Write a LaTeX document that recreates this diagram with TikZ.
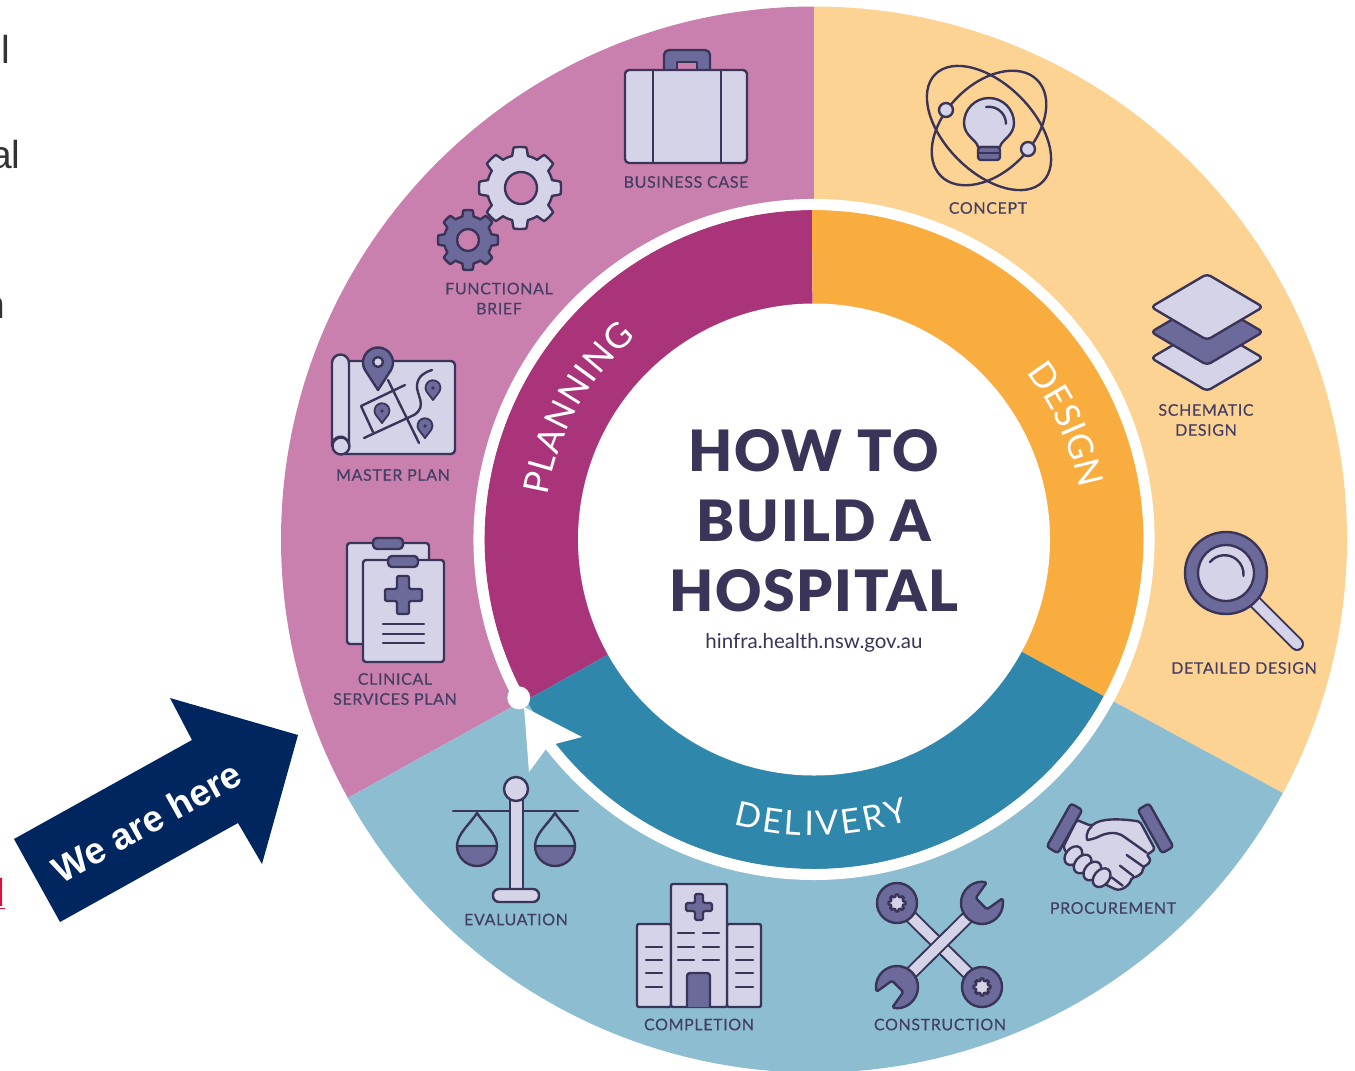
\documentclass[tikz,border=0pt]{standalone}
\usepackage{fontspec}
\setmainfont{Lato}
\newfontfamily\labfont[LetterSpace=4,FakeBold=0.25]{Lato}
\newfontfamily\ringf{Lato}
\newfontfamily\titlef[LetterSpace=3]{Lato Black}
\newfontfamily\arialfont{Liberation Sans}
\usetikzlibrary{decorations.text}
\definecolor{pinkL}{HTML}{CA80AE}
\definecolor{pinkD}{HTML}{A9347A}
\definecolor{orgL}{HTML}{FDD394}
\definecolor{orgD}{HTML}{FAAD3F}
\definecolor{bluL}{HTML}{8DBDD0}
\definecolor{bluD}{HTML}{2F88AB}
\definecolor{ink}{HTML}{3A3558}
\definecolor{lav}{HTML}{D5D3E8}
\definecolor{pur}{HTML}{6C6A9B}
\definecolor{navy}{HTML}{00265F}
\definecolor{lbl}{HTML}{443E62}
\definecolor{linkred}{HTML}{D5143C}
\tikzset{
  icon/.style={draw=ink,line width=2.4pt,line join=round,line cap=round},
  ln/.style={draw=ink,line width=2.4pt,line cap=round,line join=round},
  lab/.style={text=lbl,font=\labfont\fontsize{16}{20}\selectfont,align=center,inner sep=0pt},
  title/.style={text=ink,font=\titlef\fontsize{57}{70}\selectfont,align=center,inner sep=0pt},
  bgtxt/.style={text=black!80,font=\arialfont\fontsize{39}{39}\selectfont,inner sep=0pt,anchor=base west},
  ringtxt/.style={decorate,decoration={text along path,text align=center,text={#1}}}
}
\newcommand\ringfont{\ringf\fontsize{35}{35}\selectfont\color{white}}
\newcommand\ringfontb{\ringf\fontsize{34}{34}\selectfont\color{white}}
\newcommand\kk{\kern1pt}
\newcommand\kb{\kern3pt}
\newcommand\gearicon[7]{% x y rout rin n fill phase
  \draw[icon,fill=#6] plot[domain=0:360,samples=289,variable=\t]
   ({#1+(#4+(#3-#4)*max(0,min(1,0.5+1.5*cos(#5*\t+#7))))*cos(\t)},
    {#2+(#4+(#3-#4)*max(0,min(1,0.5+1.5*cos(#5*\t+#7))))*sin(\t)}) -- cycle;}
\begin{document}
\begin{tikzpicture}[x=1pt,y=-1pt]
\useasboundingbox (0,0) rectangle (1355,1071);
\fill[white] (0,0) rectangle (1355,1071);
\clip (0,0) rectangle (1355,1071);
\coordinate (c) at (814,539.5);
% left text fragments
\node[bgtxt] (fa) at (-7,63) {ll};
\node[bgtxt] (fb) at (-10,168) {al};
\node[bgtxt] (fc) at (-17,318) {n};
\node[bgtxt,text=linkred] (fd) at (-17,906) {\underline{d}};
% outer ring
\fill[pinkL] (c) -- ([shift={(90:533pt)}]c) arc[start angle=90,end angle=209,radius=533pt] -- cycle;
\fill[orgL] (c) -- ([shift={(90:533pt)}]c) arc[start angle=90,end angle=-28.4,radius=533pt] -- cycle;
\fill[bluL] (c) -- ([shift={(209:533pt)}]c) arc[start angle=209,end angle=331.6,radius=533pt] -- cycle;
% white disc under inner ring
\fill[white] (c) circle[radius=329.5pt];
% inner ring
\fill[pinkD] (c) -- ([shift={(90.35:329.5pt)}]c) arc[start angle=90.35,end angle=209.2,radius=329.5pt] -- cycle;
\fill[orgD] (c) -- ([shift={(90.35:329.5pt)}]c) arc[start angle=90.35,end angle=-28.4,radius=329.5pt] -- cycle;
\fill[bluD] (c) -- ([shift={(209.2:329.5pt)}]c) arc[start angle=209.2,end angle=331.6,radius=329.5pt] -- cycle;
\fill[white] (c) circle[radius=236pt];
% white progress ring
\draw[white,line width=11pt] ([shift={(208.2:335pt)}]c) arc[start angle=208.2,end angle=-142,radius=335pt];
\fill[white] (c) ++(208.2:335pt) circle[radius=11.5pt];
\coordinate (at) at (524,707);
\coordinate (aw) at (582,737);
\coordinate (av) at (529,772);
\fill[white] (at) -- (aw) -- (555,744) -- (546,749) -- (av) -- cycle;
% ring labels
\path[ringtxt={|\ringfont|{P\kk}{L\kk}{A\kk}{N\kk}{N\kk}{I\kk}{N\kk}{G}}] ([shift={(181:270pt)}]c) arc[start angle=181,end angle=121,radius=270pt];
\path[ringtxt={|\ringfont|DESIGN}] ([shift={(49.5:270pt)}]c) arc[start angle=49.5,end angle=-0.5,radius=270pt];
\path[ringtxt={|\ringfontb|{D\kb}{E\kb}{L\kb}{I\kb}{V\kb}{E\kb}{R\kb}{Y}}] ([shift={(242.5:296pt)}]c) arc[start angle=242.5,end angle=300.5,radius=296pt];
% centre
\node[title] (t1) at (814,451) {HOW TO};
\node[title] (t2) at (814,521) {BUILD A};
\node[title] (t3) at (814,591) {HOSPITAL};
\node[text=ink,font=\fontsize{20.5}{21}\selectfont,inner sep=0pt] (t4) at (814,643) {hinfra.health.nsw.gov.au};
% business case
\draw[icon,fill=pur,rounded corners=5pt] (664,72) -- (664,50) -- (710,50) -- (710,72);
\fill[pinkL] (677,62) rectangle (697,70);
\draw[ln] (677,70) -- (677,62) -- (697,62) -- (697,70);
\draw[icon,fill=lav,rounded corners=4pt] (625,70) rectangle (747,163);
\draw[ln] (653,70) -- (653,163) (721,70) -- (721,163);
\node[lab] (l1) at (686,182) {BUSINESS CASE};
% gears
\gearicon{520}{188}{41}{33}{8}{lav}{0}
\draw[icon,fill=pinkL] (521,188) circle[radius=16pt];
\gearicon{468}{240}{30}{24}{8}{pur}{0}
\draw[icon,fill=pinkL] (468,240) circle[radius=11pt];
\node[lab] (l2) at (499,298.5) {FUNCTIONAL\\BRIEF};
% master plan
\draw[icon,fill=lav,rounded corners=4pt] (345,361) -- (455,361) -- (455,454) -- (342,454) -- (340,361) -- cycle;
\draw[icon,fill=lav] (341,446) circle[radius=8.5pt];
\draw[icon,fill=lav] (332,446) -- (332,363) arc[start angle=180,end angle=0,radius=8.5pt] -- (349,444) .. controls (345,432) and (332,436) .. (332,446);
\draw[ln] (388,380) -- (419,443);
\draw[ln] (405,385) -- (361,406) -- (373,432);
\draw[ln] (364,438) -- (414,415) .. controls (428,406) and (416,395) .. (417,385) .. controls (418,376) and (425,372) .. (432,370);
\draw[icon,fill=pur] (365,370) arc[start angle=210,end angle=-30,radius=15pt] -- (378,390) -- cycle;
\draw[icon,fill=lav] (378,362) circle[radius=5pt];
\foreach \px/\py in {433/388,382/411,425/426}{
  \draw[icon,fill=pur,line width=1.8pt] (\px-6.5,\py+3.5) arc[start angle=210,end angle=-30,radius=7.5pt] -- (\px,\py+12) -- cycle;
  \fill[ink] (\px,\py) circle[radius=1.8pt];
}
\node[lab] (l3) at (393,475) {MASTER PLAN};
% clipboards
\draw[icon,fill=lav,rounded corners=3pt] (347,543) rectangle (429,644);
\draw[icon,fill=pur,rounded corners=4pt] (373,538) rectangle (403,549);
\draw[icon,fill=lav,rounded corners=3pt] (363,560) rectangle (444,662);
\draw[icon,fill=pur,rounded corners=4pt] (388,556) rectangle (418,567);
\draw[icon,fill=pur,rounded corners=2pt] (397,576) -- (409,576) -- (409,589) -- (422,589) -- (422,601) -- (409,601) -- (409,614) -- (397,614) -- (397,601) -- (385,601) -- (385,589) -- (397,589) -- cycle;
\draw[ln] (383,624) -- (424,624) (383,634) -- (424,634) (383,643) -- (424,643);
\node[lab] (l4) at (395,689) {CLINICAL\\SERVICES PLAN};
% concept
\draw[icon] (989,128) ellipse[x radius=76pt,y radius=44pt,rotate=-45];
\draw[icon] (989,128) ellipse[x radius=68pt,y radius=44pt,rotate=45];
\draw[icon,fill=lav] (946,110) circle[radius=7pt];
\draw[icon,fill=lav] (1028,149) circle[radius=7pt];
\draw[icon,fill=lav] (978,147) .. controls (977,140) and (964,136) .. (964,123) arc[start angle=180,end angle=0,radius=25pt] .. controls (1014,136) and (1001,140) .. (1000,147) -- cycle;
\draw[icon,fill=pur,rounded corners=3pt] (978,147) rectangle (1000,160);
\draw[ln] (978,153) -- (1000,153);
\draw[ln] (986,107) arc[start angle=100,end angle=0,radius=17pt];
\node[lab] (l5) at (988,208) {CONCEPT};
% layers
\foreach \dy/\col in {51/lav,25/pur,0/lav}{
  \draw[icon,fill=\col,rounded corners=4pt] (1207,274+\dy) -- (1263,307+\dy) -- (1207,340+\dy) -- (1151,307+\dy) -- cycle;
}
\node[lab] (l6) at (1206,420) {SCHEMATIC\\DESIGN};
% magnifier
\draw[line width=14pt,ink,line cap=round] (1255,602) -- (1297,644);
\draw[line width=10pt,lav,line cap=round] (1255,602) -- (1297,644);
\draw[icon,fill=pur] (1226,573) circle[radius=41pt];
\draw[icon,fill=lav] (1226,573) circle[radius=28pt];
\draw[ln] (1210,562) arc[start angle=140,end angle=-5,radius=19pt];
\node[lab] (l7) at (1244,668) {DETAILED DESIGN};
% handshake
\begin{scope}[shift={(860,790)},x=0.33333pt,y=-0.33333pt]
\draw[icon,fill=lav,rounded corners=2pt] (650,90) -- (695,108) .. controls (720,85) and (780,85) .. (840,95) -- (885,178) -- (860,195) .. controls (880,215) and (860,225) .. (848,232) .. controls (850,250) and (830,262) .. (815,262) .. controls (810,285) and (785,305) .. (760,295) -- (700,265) -- (640,230) -- (610,170) -- cycle;
\draw[icon,fill=lav,rounded corners=6pt] (860,188) -- (775,128) -- (735,130) -- (700,148) .. controls (680,150) and (675,125) .. (695,110);
\foreach \fx/\fy in {640/197,668/222,697/243,725/263}{
  \draw[icon,fill=lav] (\fx,\fy) ellipse[x radius=7.5pt,y radius=10.5pt,rotate=-40];
}
\draw[ln] (800,195) -- (850,230) (780,227) -- (820,258) (755,262) -- (788,287);
\draw[icon,fill=pur,rounded corners=3pt] (667,60) -- (633,40) -- (560,170) -- (594,190) -- cycle;
\draw[icon,fill=pur,rounded corners=3pt] (867,40) -- (833,60) -- (906,190) -- (940,170) -- cycle;
\end{scope}
\node[lab] (l8) at (1113,908) {PROCUREMENT};
% construction
\draw[line width=14pt,ink] (897,903) -- (982,987);
\draw[line width=10pt,lav] (897,903) -- (982,987);
\foreach \wx/\wy in {897/903,982/987}{
  \draw[icon,fill=pur] (\wx,\wy) circle[radius=20pt];
  \gearicon{\wx}{\wy}{8.5}{6.5}{8}{lav}{0}
}
\draw[line width=14pt,ink] (982,903) -- (897,987);
\draw[line width=10pt,lav] (982,903) -- (897,987);
\begin{scope}[shift={(982,903)},rotate=45]
\draw[icon,fill=pur,rounded corners=1.5pt] (32:21pt) arc[start angle=32,end angle=328,radius=21pt] -- (-1pt,-8pt) -- (-1pt,8pt) -- cycle;
\end{scope}
\begin{scope}[shift={(897,987)},rotate=225]
\draw[icon,fill=pur,rounded corners=1.5pt] (32:21pt) arc[start angle=32,end angle=328,radius=21pt] -- (-1pt,-8pt) -- (-1pt,8pt) -- cycle;
\end{scope}
\node[lab] (l9) at (940,1024.5) {CONSTRUCTION};
% hospital
\draw[icon,fill=lav,rounded corners=2pt] (637,924) rectangle (671,1007);
\draw[icon,fill=lav,rounded corners=2pt] (727,924) rectangle (761,1007);
\draw[icon,fill=lav,rounded corners=2pt] (671,884) rectangle (727,1007);
\draw[icon,fill=pur,rounded corners=1.5pt] (695,894) -- (703,894) -- (703,903) -- (712,903) -- (712,911) -- (703,911) -- (703,920) -- (695,920) -- (695,911) -- (686,911) -- (686,903) -- (695,903) -- cycle;
\draw[icon,fill=pur,rounded corners=3pt] (687,1007) -- (687,973) -- (710,973) -- (710,1007);
\foreach \wy in {933,947,960}{\draw[ln] (678,\wy) -- (694,\wy) (703,\wy) -- (719,\wy);}
\foreach \wy in {947,960,973,987}{\draw[ln] (646,\wy) -- (662,\wy) (736,\wy) -- (753,\wy);}
\node[lab] (l10) at (699,1024.5) {COMPLETION};
% scales
\draw[ln] (453,811) -- (578,811);
\draw[icon,fill=lav] (510,798) rectangle (523,890);
\draw[icon,fill=lav] (516,789) circle[radius=12pt];
\draw[icon,fill=lav,rounded corners=6pt] (493,889) rectangle (539,902);
\foreach \sx in {477,555}{
  \draw[ln] (\sx-20,846) .. controls (\sx-20,834) and (\sx-7,824) .. (\sx,813) .. controls (\sx+7,824) and (\sx+20,834) .. (\sx+20,846);
  \draw[icon,fill=pur] (\sx-20,846) arc[start angle=180,end angle=360,radius=20pt] -- cycle;
}
\node[lab] (l11) at (516,919.5) {EVALUATION};
% we are here arrow
\fill[navy] (14,839) -- (192,740) -- (170,698) -- (298,735) -- (262,864) -- (238,823) -- (60,922) -- cycle;
\node[text=white,font=\arialfont\bfseries\fontsize{37}{37}\selectfont,rotate=29,inner sep=0pt] (arrowtext) at (147,822) {We are here};
\end{tikzpicture}
\end{document}
